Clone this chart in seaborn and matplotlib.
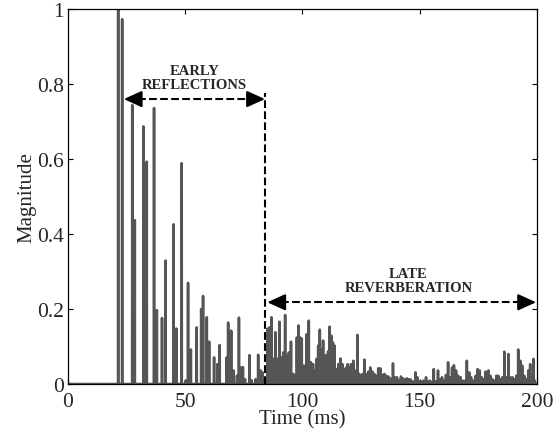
import numpy as np
import pandas as pd
import matplotlib
matplotlib.use("Agg")
import matplotlib.pyplot as plt
import seaborn as sns

# taps of the impulse response (time in ms, magnitude)
early_t = [21.4, 23.1, 27.4, 28.5, 32.2, 33.6, 36.7, 37.9, 40.1, 41.6,
           45.0, 46.2, 48.5, 50.2, 51.2, 52.4, 54.9, 56.8, 57.6, 59.2,
           60.2, 62.3, 63.7, 64.7, 67.7, 68.3, 69.6, 70.7, 72.1, 72.9,
           73.8, 74.6, 75.5, 77.4, 78.3, 80.0, 81.1, 82.2, 82.9]
early_amp = [1.0, 0.973, 0.744, 0.437, 0.687, 0.593, 0.736, 0.197, 0.176, 0.329,
             0.426, 0.148, 0.589, 0.009, 0.27, 0.092, 0.151, 0.2, 0.235, 0.178,
             0.113, 0.071, 0.053, 0.104, 0.071, 0.164, 0.142, 0.036, 0.022, 0.177,
             0.044, 0.045, 0.013, 0.077, 0.01, 0.013, 0.078, 0.036, 0.031]

late_t = [85.0, 85.8, 86.8, 87.5, 88.4, 89.3, 90.2, 91.0, 91.8, 92.6,
          93.5, 94.2, 95.1, 96.1, 96.9, 97.6, 98.3, 99.0, 99.7, 100.6,
          101.1, 101.8, 102.7, 103.6, 104.5, 105.4, 106.0, 106.7, 107.4, 108.1,
          108.8, 109.5, 110.2, 110.9, 111.6, 112.3, 113.0, 113.7, 114.5, 115.3,
          116.2, 117.0, 117.7, 118.6, 119.3, 120.0, 120.7, 121.7, 122.7, 123.4,
          124.2, 125.0, 125.7, 126.4, 127.2, 128.1, 128.9, 129.8, 130.6, 131.5,
          132.3, 133.2, 134.0, 134.9, 135.7, 136.6, 137.4, 138.6, 139.4, 140.3,
          141.1, 142.0, 142.8, 143.7, 144.5, 145.4, 146.2, 147.1, 148.2, 149.0,
          149.9, 150.7, 151.6, 152.7, 153.6, 154.4, 155.3, 156.0, 156.8, 157.8,
          158.7, 159.5, 160.4, 161.2, 162.1, 162.9, 163.8, 164.6, 165.5, 166.4,
          167.4, 168.5, 169.4, 170.1, 171.1, 171.9, 172.9, 173.9, 174.7, 175.6,
          176.4, 177.3, 178.1, 179.3, 180.1, 181.0, 181.8, 182.7, 183.5, 184.4,
          185.2, 186.1, 186.9, 187.8, 188.6, 189.5, 190.3, 191.2, 192.0, 192.9,
          193.7, 194.6, 195.4, 196.3, 197.1, 198.0, 198.5, 199.1]
late_amp = [0.147, 0.151, 0.178, 0.067, 0.138, 0.067, 0.166, 0.071, 0.084, 0.184,
            0.076, 0.084, 0.113, 0.027, 0.022, 0.124, 0.156, 0.124, 0.121, 0.049,
            0.01, 0.133, 0.169, 0.058, 0.053, 0.036, 0.067, 0.102, 0.145, 0.093,
            0.116, 0.077, 0.076, 0.087, 0.153, 0.129, 0.111, 0.102, 0.040, 0.053,
            0.068, 0.053, 0.04, 0.044, 0.053, 0.044, 0.053, 0.062, 0.036, 0.131,
            0.027, 0.022, 0.027, 0.065, 0.027, 0.033, 0.044, 0.033, 0.027, 0.022,
            0.042, 0.042, 0.024, 0.027, 0.022, 0.02, 0.015, 0.055, 0.018, 0.018,
            0.01, 0.02, 0.015, 0.013, 0.015, 0.013, 0.012, 0.007, 0.031, 0.018,
            0.007, 0.007, 0.009, 0.018, 0.007, 0.009, 0.005, 0.04, 0.007, 0.036,
            0.012, 0.018, 0.009, 0.024, 0.058, 0.018, 0.044, 0.05, 0.036, 0.022,
            0.018, 0.009, 0.009, 0.062, 0.031, 0.018, 0.009, 0.022, 0.04, 0.036,
            0.018, 0.013, 0.033, 0.036, 0.022, 0.013, 0.009, 0.022, 0.022, 0.013,
            0.018, 0.086, 0.018, 0.08, 0.018, 0.018, 0.013, 0.022, 0.092, 0.062,
            0.049, 0.022, 0.013, 0.036, 0.053, 0.018, 0.067, 0.009]

x_ticks = [0, 50, 100, 150, 200]
y_ticks = [0, 0.2, 0.4, 0.6, 0.8, 1]
y_ticklabels = ["0", "0.2", "0.4", "0.6", "0.8", "1"]

boundary = 84.2  # early / late split (ms)

# put the taps on a sampled time axis
dt_ms = 0.05
t = np.arange(0, 200 + dt_ms / 2, dt_ms)
h = np.zeros_like(t)
for tt, a in zip(early_t + late_t, early_amp + late_amp):
    h[int(round(tt / dt_ms))] = a
df = pd.DataFrame({"Time": t, "Magnitude": h})

sns.set_style("ticks")
plt.rcParams["font.family"] = ["Liberation Serif", "DejaVu Serif"]
plt.rcParams["font.size"] = 15

fig = plt.figure(figsize=(5.55, 4.39), dpi=100)
ax = fig.add_axes([0.1225, 0.123, 0.845, 0.854])

sns.lineplot(data=df, x="Time", y="Magnitude", ax=ax, color="#555555",
             linewidth=1.85, estimator=None)

# early / late markers
ax.plot([boundary, boundary], [0, 0.775], "--", color="k", lw=1.5, zorder=5)
ax.plot([25.0, 83.0], [0.76, 0.76], "--", color="k", lw=1.5, zorder=5)
ax.plot([86.0, 198.8], [0.218, 0.218], "--", color="k", lw=1.5, zorder=5)
head = dict(arrowstyle="-|>,head_length=0.55,head_width=0.25", color="k",
            lw=1.5, mutation_scale=20, shrinkA=0, shrinkB=0)
for tip, tail, yy in [(23.8, 28.5, 0.76), (84.0, 79.3, 0.76),
                      (85.0, 89.7, 0.218), (199.6, 194.9, 0.218)]:
    ax.annotate("", xy=(tip, yy), xytext=(tail, yy), arrowprops=head, zorder=6)

ax.text(53.9, 0.818, "EARLY\nREFLECTIONS", ha="center", va="center",
        fontsize=10.5, fontweight="bold", linespacing=1.05)
ax.text(145.2, 0.276, "LATE\nREVERBERATION", ha="center", va="center",
        fontsize=10.5, fontweight="bold", linespacing=1.05)

ax.set_xlim(0, 200)
ax.set_ylim(0, 1)
ax.set_xticks(x_ticks)
ax.set_xticklabels([str(v) for v in x_ticks])
ax.set_yticks(y_ticks)
ax.set_yticklabels(y_ticklabels)
ax.tick_params(direction="in", length=3.5, width=0.8, top=True, right=True,
               labelsize=15.5, color="k")
ax.tick_params(axis="x", pad=6)
ax.tick_params(axis="y", pad=3)
for s in ax.spines.values():
    s.set_visible(True)
    s.set_color("k")
    s.set_linewidth(0.9)

ax.set_xlabel("Time (ms)", fontsize=15)
ax.set_ylabel("Magnitude", fontsize=15)
ax.xaxis.set_label_coords(0.5, -0.068)
ax.yaxis.set_label_coords(-0.068, 0.5)

fig.savefig("out.png", dpi=100)
